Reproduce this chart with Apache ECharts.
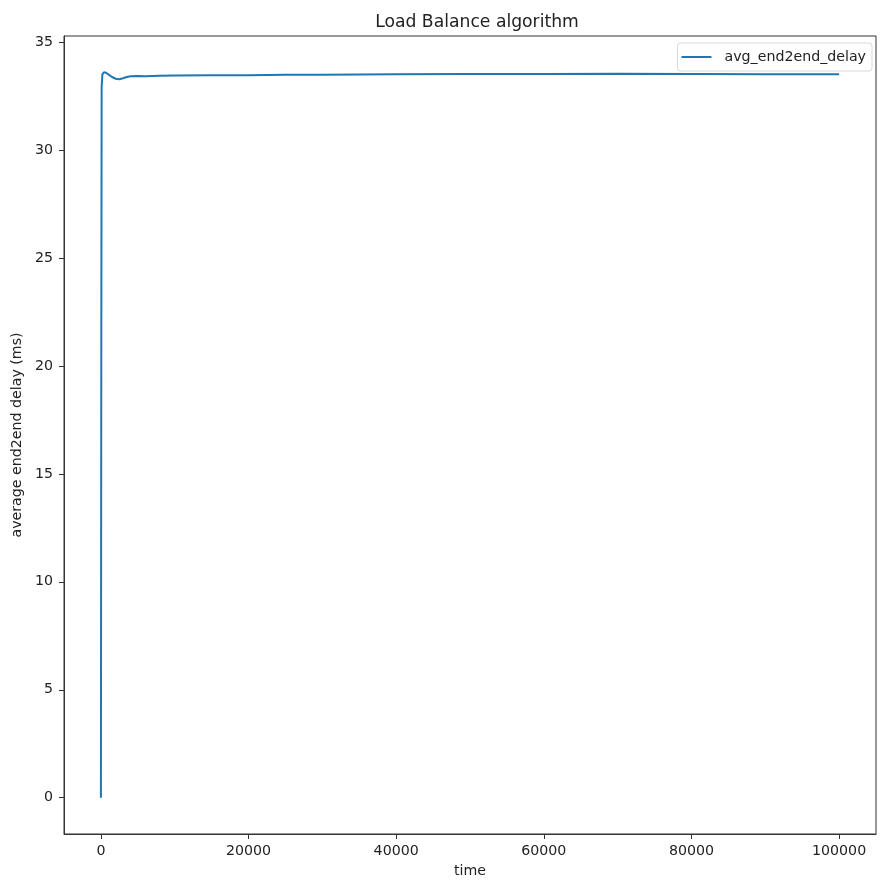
<!DOCTYPE html>
<html>
<head>
<meta charset="utf-8">
<script src="https://cdn.jsdelivr.net/npm/echarts@6/dist/echarts.min.js"></script>
<style>
html,body{margin:0;padding:0;background:#fff;}
#chart{width:880px;height:884px;}
</style>
</head>
<body>
<div id="chart"></div>
<script>
const seriesName = 'avg_end2end_delay';
const timeValues = [0, 50, 100, 200, 400, 700, 1000, 1500, 2000, 2500, 3000, 3500, 4000, 5000, 6000, 8000, 10000, 15000, 20000, 25000, 30000, 40000, 50000, 60000, 70000, 80000, 90000, 100000];
const delayValues = [0, 20, 32.9, 33.5, 33.6, 33.58, 33.5, 33.38, 33.3, 33.28, 33.32, 33.38, 33.42, 33.43, 33.42, 33.44, 33.45, 33.46, 33.46, 33.48, 33.49, 33.51, 33.52, 33.52, 33.53, 33.52, 33.51, 33.51];
const xTicks = [0, 20000, 40000, 60000, 80000, 100000];
const yTicks = [0, 5, 10, 15, 20, 25, 30, 35];

const font = 'DejaVu Sans';
const fs = 14.2;
const chart = echarts.init(document.getElementById('chart'), null, {renderer: 'canvas'});
chart.setOption({
  animation: false,
  backgroundColor: '#fff',
  title: {
    text: 'Load Balance algorithm',
    left: 472, top: 9, textAlign: 'center',
    textStyle: {fontFamily: font, fontSize: 17.2, fontWeight: 'normal', color: '#222'}
  },
  legend: {
    right: 8, top: 43,
    data: [seriesName],
    icon: 'rect', itemWidth: 30, itemHeight: 2, itemGap: 10,
    padding: [7, 6, 7, 4],
    borderColor: '#d9d9d9', borderWidth: 1, borderRadius: 3,
    textStyle: {fontFamily: font, fontSize: fs, color: '#222', padding: [0, 0, 0, 8]}
  },
  grid: {
    left: 64, right: 4, top: 36, bottom: 50,
    show: true, borderColor: '#333', borderWidth: 1, backgroundColor: 'transparent'
  },
  xAxis: {
    type: 'value', min: -5000, max: 105000,
    name: 'time', nameLocation: 'middle', nameGap: 30,
    nameTextStyle: {fontFamily: font, fontSize: fs, color: '#222'},
    axisLine: {show: true, onZero: false, lineStyle: {color: '#333'}},
    axisTick: {show: true, length: 5, customValues: xTicks, lineStyle: {color: '#333'}},
    axisLabel: {customValues: xTicks, formatter: v => String(v), fontFamily: font, fontSize: fs, color: '#222', margin: 10},
    splitLine: {show: false}
  },
  yAxis: {
    type: 'value', min: -1.68, max: 35.28,
    name: 'average end2end delay (ms)', nameLocation: 'middle', nameGap: 35,
    nameTextStyle: {fontFamily: font, fontSize: fs, color: '#222'},
    axisLine: {show: true, onZero: false, lineStyle: {color: '#333'}},
    axisTick: {show: true, length: 5, customValues: yTicks, lineStyle: {color: '#333'}},
    axisLabel: {customValues: yTicks, formatter: v => String(v), fontFamily: font, fontSize: fs, color: '#222', margin: 11},
    splitLine: {show: false}
  },
  series: [{
    name: seriesName,
    type: 'line',
    data: timeValues.map((t, i) => [t, delayValues[i]]),
    showSymbol: false, symbol: 'none',
    lineStyle: {color: '#1f77b4', width: 2},
    itemStyle: {color: '#1f77b4'},
    smooth: false
  }]
});
</script>
</body>
</html>
